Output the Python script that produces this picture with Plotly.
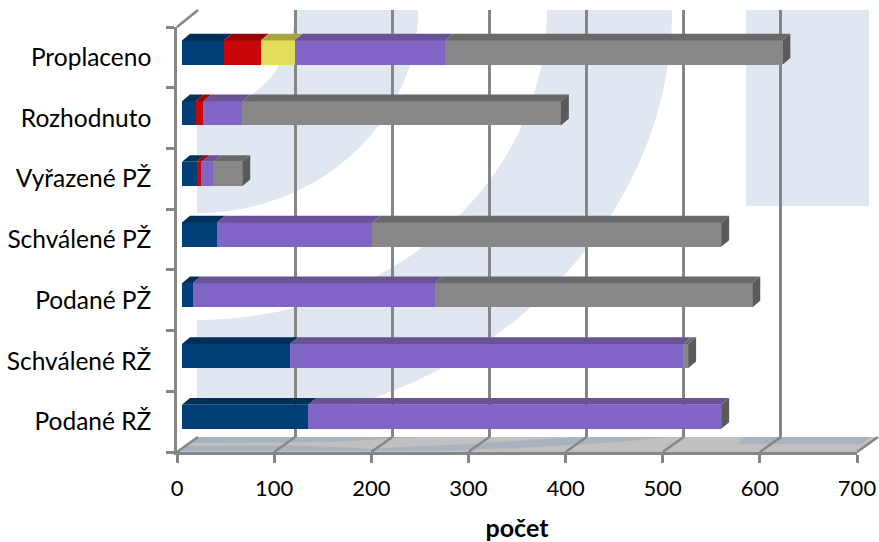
import math
import plotly.graph_objects as go

categories = ["Podané RŽ", "Schválené RŽ", "Podané PŽ", "Schválené PŽ", "Vyřazené PŽ", "Rozhodnuto", "Proplaceno"]
blue = [130, 111, 11, 36, 15, 14, 43]
red = [0, 0, 0, 0, 5, 8, 38]
yellow = [0, 0, 0, 0, 0, 0, 35]
purple = [425, 405, 249, 160, 12, 40, 155]
gray = [0, 5, 327, 359, 30, 328, 347]
x_ticks = [0, 100, 200, 300, 400, 500, 600, 700]
x_title = "počet"

series = [
    (blue, "#003F77", "#002F5A"),
    (red, "#C80808", "#980505"),
    (yellow, "#E2DE58", "#A9A63F"),
    (purple, "#8064C6", "#6A5296"),
    (gray, "#888888", "#696969"),
]
SIDE = "#5A5A5A"
GRID = "#868686"
WASH = "#E0E7F0"
FLOOR = "#C0C0C0"
FLOOR_BAND = "#A9B3BF"
FONT = "Lato"
LINE_W = 2.5

W, H = 879, 542
L, R, T, B = 177, 879, 10, 452
PW, PH = R - L, B - T
FX, BX, TOPF = 857, 878, 27
BACK_Y = 437
px_per_unit = (FX - L) / 700
band_px = (B - TOPF) / 7
BAR_DX, BAR_DY = 5, 4.8
DX = 8 / px_per_unit
DY = 6.7 / band_px
HALF = 0.2


def fx(p):
    return (p - L) / PW


def fy(p):
    return (B - p) / PH


def poly(points):
    return "M" + " L".join(f"{fx(a):.5f},{fy(b):.5f}" for a, b in points) + " Z"


def quarter(a, b, reverse=False):
    n = 60
    pts = [(197 + a * math.cos(i / n * math.pi / 2), 10 + b * math.sin(i / n * math.pi / 2)) for i in range(n + 1)]
    return pts[::-1] if reverse else pts


shapes = []


def add_shape(path, color, layer="below"):
    shapes.append(dict(type="path", xref="paper", yref="paper", path=path,
                       fillcolor=color, line=dict(width=0), layer=layer))


add_shape(poly(quarter(221, 203) + quarter(98, 102, True)), WASH)
add_shape(poly(quarter(475, 418) + quarter(350, 310, True)), WASH)
add_shape(poly([(746, 10), (869, 10), (869, 206), (746, 206)]), WASH)

add_shape(poly([(L, B), (FX, B), (BX, BACK_Y), (BX - FX + L, BACK_Y)]), FLOOR)
add_shape(poly([(197, BACK_Y), (417, BACK_Y), (335, 442), (188, 443)]), FLOOR_BAND)
add_shape(poly([(184, 446), (290, 445.5), (345, 447), (400, 451), (179, 451)]), FLOOR_BAND)
add_shape(poly([(340, 451), (400, 447), (470, 444), (530, 440), (570, 437.5), (670, 437), (620, 442), (570, 445),
                (520, 448), (450, 450.5), (400, 451)]), FLOOR_BAND)
add_shape(poly([(745, BACK_Y), (870, BACK_Y), (862, 444), (737, 444)]), FLOOR_BAND)

for t in x_ticks:
    front = L + t * px_per_unit
    back = (BX - FX + L) + t * (BX - (BX - FX + L)) / 700
    shapes.append(dict(type="line", xref="paper", yref="paper", x0=fx(front), y0=fy(B), x1=fx(back), y1=fy(BACK_Y),
                       line=dict(color=GRID, width=LINE_W), layer="below"))
shapes.append(dict(type="line", xref="paper", yref="paper", x0=fx(L), y0=fy(TOPF), x1=fx(BX - FX + L), y1=fy(T),
                   line=dict(color=GRID, width=LINE_W), layer="below"))

fig = go.Figure()

# back wall subplot: only grid
fig.add_trace(go.Scatter(x=[0], y=[0], mode="markers", marker=dict(opacity=0), xaxis="x", yaxis="y",
                         hoverinfo="skip", showlegend=False))
# front plane subplot: category labels
fig.add_trace(go.Scatter(x=[0] * 7, y=categories, mode="markers", marker=dict(opacity=0), xaxis="x2", yaxis="y2",
                         hoverinfo="skip", showlegend=False))

for values, face, _ in series:
    fig.add_trace(go.Bar(y=categories, x=values, orientation="h", width=2 * HALF, marker=dict(color=face, line=dict(width=0)),
                         xaxis="x3", yaxis="y3", showlegend=False))

# depth faces
for row in range(len(categories)):
    left = 0
    for values, _, top in series:
        v = values[row]
        if v > 0:
            y0 = row + HALF
            fig.add_trace(go.Scatter(
                x=[left, left + v, left + v + DX, left + DX, left],
                y=[y0, y0, y0 + DY, y0 + DY, y0],
                mode="lines", fill="toself", fillcolor=top, line=dict(width=0),
                xaxis="x4", yaxis="y4", hoverinfo="skip", showlegend=False))
        left += v
    fig.add_trace(go.Scatter(
        x=[left, left + DX, left + DX, left, left],
        y=[row - HALF, row - HALF + DY, row + HALF + DY, row + HALF, row - HALF],
        mode="lines", fill="toself", fillcolor=SIDE, line=dict(width=0),
        xaxis="x4", yaxis="y4", hoverinfo="skip", showlegend=False))

hidden = dict(visible=False, showgrid=False, zeroline=False, showticklabels=False, fixedrange=True, automargin=False)
fig.update_layout(
    width=W, height=H,
    margin=dict(l=L, r=W - R, t=T, b=H - B, pad=0, autoexpand=False),
    paper_bgcolor="white", plot_bgcolor="rgba(0,0,0,0)",
    barmode="stack", bargap=0, showlegend=False,
    font=dict(family=FONT, color="black", size=22),
    shapes=shapes,
    xaxis=dict(domain=[fx(BX - FX + L), fx(BX)], range=[0, 700], tickvals=x_ticks, showgrid=True, gridcolor=GRID, gridwidth=LINE_W,
               zeroline=False, showticklabels=False, ticks="", showline=False, anchor="y", automargin=False),
    yaxis=dict(domain=[fy(BACK_Y), 1], range=[0, 1], showgrid=False, zeroline=False, showticklabels=False, ticks="",
               showline=False, anchor="x", automargin=False),
    xaxis2=dict(domain=[0, fx(FX)], range=[0, 700], tickvals=x_ticks, showgrid=False, zeroline=False,
                ticks="outside", ticklen=8, tickwidth=LINE_W, tickcolor=GRID, showline=True, linecolor=GRID, linewidth=LINE_W,
                anchor="y2", tickfont=dict(size=22, family=FONT), ticklabelstandoff=7, automargin=False,
                title=dict(text="<b>" + x_title + "</b>", font=dict(size=25, family=FONT), standoff=20)),
    yaxis2=dict(domain=[0, fy(TOPF)], type="category", categoryorder="array", categoryarray=categories, range=[-0.5, 6.5],
                tickson="boundaries", showgrid=False, zeroline=False, ticks="outside", ticklen=8, tickwidth=LINE_W, tickcolor=GRID,
                showline=True, linecolor=GRID, linewidth=LINE_W, anchor="x2", tickfont=dict(size=24.5, family=FONT),
                ticklabelstandoff=18, automargin=False),
    xaxis3=dict(domain=[fx(L + BAR_DX), fx(FX + BAR_DX)], range=[0, 700], anchor="y3", **hidden),
    yaxis3=dict(domain=[fy(B - BAR_DY), fy(TOPF - BAR_DY)], type="category", categoryorder="array", categoryarray=categories,
                range=[-0.5, 6.5], anchor="x3", **hidden),
    xaxis4=dict(domain=[fx(L + BAR_DX), fx(FX + BAR_DX)], range=[0, 700], anchor="y4", **hidden),
    yaxis4=dict(domain=[fy(B - BAR_DY), fy(TOPF - BAR_DY)], range=[-0.5, 6.5], anchor="x4", **hidden),
)

fig.write_html("out.html", config=dict(displayModeBar=False),
               post_script="document.body.style.margin='0';document.body.style.overflow='hidden';")
